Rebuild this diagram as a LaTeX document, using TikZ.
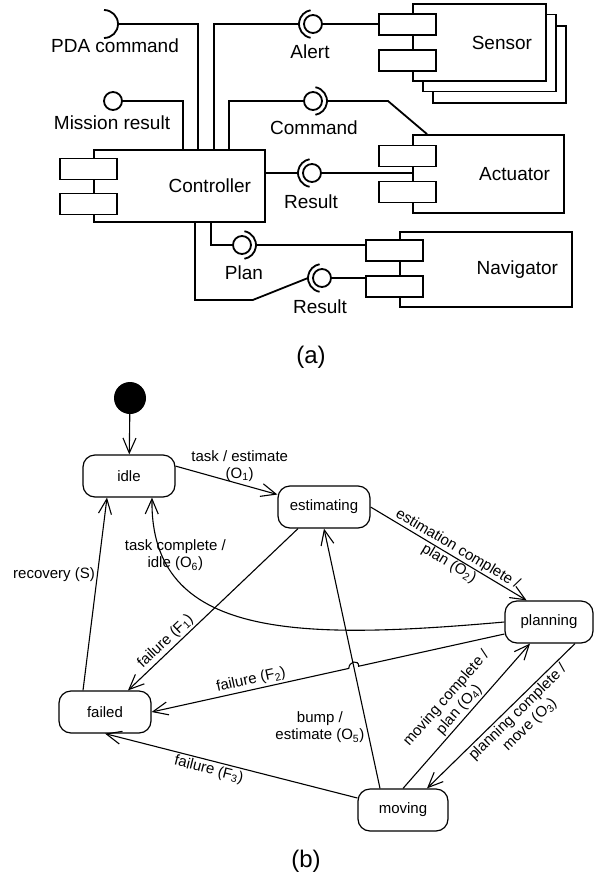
\documentclass[tikz,border=0pt]{standalone}
\usepackage{fontspec}
\setmainfont{Liberation Sans}
\usetikzlibrary{arrows.meta,calc}
\tikzset{
	comp/.style={draw, line width=1.8pt, fill=white, inner xsep=14pt, align=right, font=\fontsize{19}{22}\selectfont},
	port/.style={draw, line width=1.8pt, fill=white, minimum width=57pt, minimum height=21pt, inner sep=0pt},
	ball/.style={circle, draw, line width=1.8pt, minimum size=18pt, inner sep=0pt},
	wire/.style={line width=1.8pt},
	ilbl/.style={font=\fontsize{19}{22}\selectfont, inner sep=0pt},
	state/.style={draw, rounded corners=12pt, line width=1.2pt, minimum width=92pt, minimum height=42pt, font=\fontsize{15}{17}\selectfont},
	tr/.style={line width=1.1pt, -{Straight Barb[length=15pt,width=13pt]}},
	tlbl/.style={font=\fontsize{15}{17}\selectfont, align=center, inner sep=2pt},
	sub/.style={font=\fontsize{24}{26}\selectfont}
}

\begin{document}
\begin{tikzpicture}[x=1pt, y=-1pt]
		%%%%% START %%%%%
		\useasboundingbox (0,0) rectangle (594,876);
		
		% components
		\node[comp, minimum width=133pt, minimum height=77pt] (sensorB2) at (499.5,64.5) {};
		\node[comp, minimum width=133pt, minimum height=77pt] (sensorB1) at (489.5,53) {};
		\node[comp, text width=105pt, minimum height=77pt] (sensor) at (479.5,42.5) {Sensor};
		\node[comp, text width=143pt, minimum height=72pt] (ctrl) at (179.5,186) {Controller};
		\node[comp, text width=123pt, minimum height=78pt] (act) at (488.5,174) {Actuator};
		\node[comp, text width=144pt, minimum height=75pt] (nav) at (486,269.5) {Navigator};
		
		\node[port] (ctrlP1) at ([xshift=-4.5pt,yshift=17pt]ctrl.west) {};
		\node[port] (ctrlP2) at ([xshift=-4.5pt,yshift=-18pt]ctrl.west) {};
		\node[port] (sensorP1) at ([xshift=-4.5pt,yshift=18pt]sensor.west) {};
		\node[port] (sensorP2) at ([xshift=-4.5pt,yshift=-18pt]sensor.west) {};
		\node[port] (actP1) at ([xshift=-4.5pt,yshift=18pt]act.west) {};
		\node[port] (actP2) at ([xshift=-4.5pt,yshift=-18pt]act.west) {};
		\node[port] (navP1) at ([xshift=-4.5pt,yshift=19pt]nav.west) {};
		\node[port] (navP2) at ([xshift=-4.5pt,yshift=-17pt]nav.west) {};
		
		% interfaces
		\coordinate (pda) at (104,24);
		\node[ball] (mission) at (113,101) {};
		\node[ball] (alert) at (313,24) {};
		\node[ball] (cmd) at (313,101) {};
		\node[ball] (actRes) at (312,173) {};
		\node[ball] (plan) at (242,245) {};
		\node[ball] (navRes) at (322,278) {};
		
		\draw[wire] (pda) ++(-90:14) arc (-90:90:14);
		\draw[wire] (alert.center) ++(100:14) arc (100:260:14);
		\draw[wire] (cmd.center) ++(-80:14) arc (-80:80:14);
		\draw[wire] (actRes.center) ++(100:14) arc (100:260:14);
		\draw[wire] (plan.center) ++(-80:14) arc (-80:80:14);
		\draw[wire] (navRes.center) ++(100:14) arc (100:260:14);
		
		\draw[wire] ([xshift=14pt]pda) -| ([xshift=18.5pt]ctrl.north);
		\draw[wire] (mission.east) -| ([xshift=3.5pt]ctrl.north);
		\draw[wire] ([xshift=34.5pt]ctrl.north) |- ([xshift=-14pt]alert.center);
		\draw[wire] (alert.east) -- (alert.east -| sensorP1.west);
		\draw[wire] ([xshift=49.5pt]ctrl.north) |- (cmd.west);
		\draw[wire] ([xshift=14pt]cmd.center) -- ++(61,0) -- ([xshift=-61.5pt]act.north);
		\draw[wire] ([yshift=13pt]ctrl.east) -- ([xshift=-14pt]actRes.center);
		\draw[wire] (actRes.east) -- (actRes.east -| act.west);
		\draw[wire] ([xshift=31.5pt]ctrl.south) |- (plan.west);
		\draw[wire] ([xshift=14pt]plan.center) -- (plan.center -| navP1.west);
		\draw[wire] ([xshift=15.5pt]ctrl.south) -- ++(0,77) -- ++(58,0) -- ([xshift=-14pt]navRes.center);
		\draw[wire] (navRes.east) -- (navRes.east -| navP2.west);
		
		\node[ilbl] (tPda) at (115,46) {PDA command};
		\node[ilbl] (tMission) at (112,123) {Mission result};
		\node[ilbl] (tAlert) at (310,52) {Alert};
		\node[ilbl] (tCmd) at (314,128) {Command};
		\node[ilbl] (tActRes) at (311,202) {Result};
		\node[ilbl] (tPlan) at (244,273) {Plan};
		\node[ilbl] (tNavRes) at (320,307) {Result};
		\node[sub] (tA) at (311,357) {(a)};
		
		% state machine
		\node[circle, fill=black, minimum size=32pt, inner sep=0pt] (init) at (130,398) {};
		\node[state] (idle) at (129,476) {idle};
		\node[state] (estimating) at (324,507) {estimating};
		\node[state, minimum width=88pt] (planning) at (549,622) {planning};
		\node[state, minimum width=90pt] (moving) at (403,810) {moving};
		\node[state] (failed) at (105,712) {failed};
		
		\draw[tr] (init) -- (idle);
		\draw[tr] (idle.12) -- node[tlbl, above, pos=0.63] {task / estimate\\(O\textsubscript{1})} (estimating.165);
		\draw[tr] (estimating.east) -- node[tlbl, sloped, pos=0.53] {estimation complete /\\plan (O\textsubscript{2})} (planning.136);
		\draw[tr] ([xshift=26pt]planning.south) -- node[tlbl, sloped, below, pos=0.43] {planning complete /\\move (O\textsubscript{3})} ([xshift=24pt]moving.north);
		\draw[tr] (moving.north) -- node[tlbl, sloped, above, pos=0.5] {moving complete /\\plan (O\textsubscript{4})} ([xshift=-19pt]planning.south);
		\draw[tr] ([xshift=-23pt]moving.north) -- node[tlbl, left, pos=0.235] {bump /\\estimate (O\textsubscript{5})} (estimating.south);
		\draw[tr] (planning.west) .. controls (300,640) and (150,640) .. node[tlbl, pos=0.84, xshift=13pt] {task complete /\\idle (O\textsubscript{6})} ([xshift=23pt]idle.south);
		\draw[tr] ([xshift=-26pt]estimating.south) -- node[tlbl, sloped, above, pos=0.74] {failure (F\textsubscript{1})} ([xshift=23pt]failed.north);
		
		\coordinate (f2s) at ([yshift=-12pt]planning.west);
		\coordinate (hopA) at ($(f2s)!0.413!(failed.east)$);
		\coordinate (hopB) at ($(f2s)!0.441!(failed.east)$);
		\draw[tr] (f2s) -- (hopA) .. controls +(0,-7) and +(0,-7) .. (hopB) -- node[tlbl, sloped, above, pos=0.485] {failure (F\textsubscript{2})} (failed.east);
		
		\draw[tr] ([xshift=-22pt]failed.north) -- node[tlbl, left, pos=0.6] {recovery (S)} ([xshift=-22pt]idle.south);
		\draw[tr] ([yshift=12pt]moving.west) -- node[tlbl, sloped, below, pos=0.58] {failure (F\textsubscript{3})} (failed.south);
		
		\node[sub] (tB) at (306,861) {(b)};
		%%%%% END %%%%%
\end{tikzpicture}
\end{document}
